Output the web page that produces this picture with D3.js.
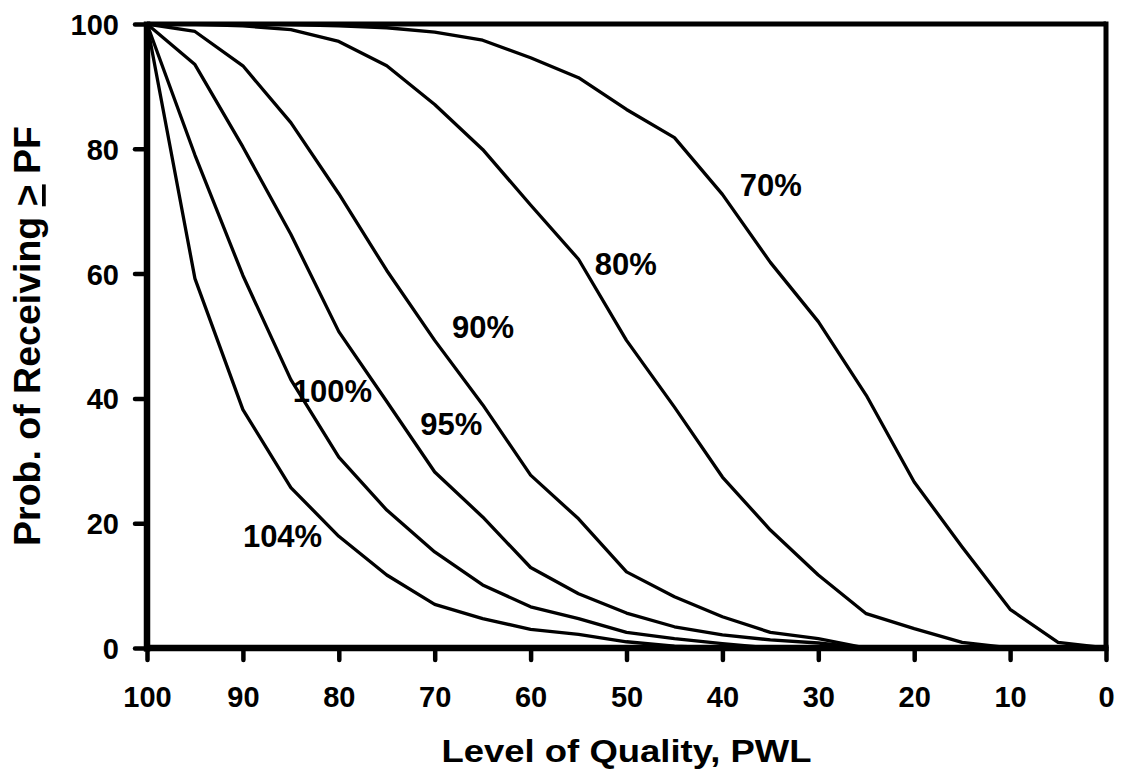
<!DOCTYPE html>
<html>
<head>
<meta charset="utf-8">
<script src="https://cdn.jsdelivr.net/npm/d3@7"></script>
<style>
  html, body { margin: 0; padding: 0; background: #fff; }
  svg { display: block; }
  text { font-family: "Liberation Sans", Arial, sans-serif; font-weight: bold; fill: #000; }
</style>
</head>
<body>
<svg id="chart" width="1124" height="780"></svg>
<script>
// ---- data ----
const pwl = [100, 95, 90, 85, 80, 75, 70, 65, 60, 55, 50, 45, 40, 35, 30, 25, 20, 15, 10, 5, 0];
const s70  = [100, 100, 100, 99.9, 99.7, 99.4, 98.7, 97.4, 94.6, 91.4, 86.3, 81.8, 72.7, 61.8, 52.3, 40.5, 26.6, 16.2, 6.2, 0.9, 0];
const s80  = [100, 99.95, 99.7, 99.1, 97.2, 93.3, 87.1, 79.9, 71.0, 62.3, 49.3, 38.6, 27.4, 18.9, 11.7, 5.5, 3.1, 0.9, 0, 0, 0];
const s90  = [100, 98.8, 93.3, 84.2, 72.8, 60.5, 49.3, 39.0, 27.7, 20.7, 12.2, 8.2, 5.0, 2.5, 1.5, 0, 0, 0, 0, 0, 0];
const s95  = [100, 93.5, 80.3, 66.3, 50.7, 39.5, 28.2, 21.0, 12.9, 8.7, 5.6, 3.4, 2.1, 1.3, 0.8, 0, 0, 0, 0, 0, 0];
const s100 = [100, 79.0, 59.7, 43.0, 30.6, 22.1, 15.4, 10.1, 6.6, 4.7, 2.5, 1.5, 0.7, 0, 0, 0, 0, 0, 0, 0, 0];
const s104 = [100, 59.2, 38.2, 25.7, 17.9, 11.7, 7.0, 4.7, 3.0, 2.2, 1.0, 0.3, 0, 0, 0, 0, 0, 0, 0, 0, 0];
const seriesNames = ["70%", "80%", "90%", "95%", "100%", "104%"];
const seriesValues = [s70, s80, s90, s95, s100, s104];
// label anchor points in data units (PWL, probability)
const labelPWL  = [38.2, 53.3, 68.2, 71.5, 84.8, 90.0];
const labelProb = [72.5, 59.7, 49.6, 34.2, 39.4, 16.2];
const xTicks = [100, 90, 80, 70, 60, 50, 40, 30, 20, 10, 0];
const yTicks = [0, 20, 40, 60, 80, 100];
const xTitle = "Level of Quality, PWL";

// ---- layout ----
const svg = d3.select("#chart");
const pLeft = 147, pRight = 1106, pTop = 24, pBottom = 648;
const x = d3.scaleLinear().domain([100, 0]).range([pLeft, pRight]);
const y = d3.scaleLinear().domain([0, 100]).range([pBottom, pTop]);

// ---- series ----
const line = d3.line().x((d, i) => x(pwl[i])).y(d => y(d));
svg.append("g").selectAll("path").data(seriesValues).join("path")
  .attr("d", d => line(d))
  .attr("fill", "none")
  .attr("stroke", "#000")
  .attr("stroke-width", 3.3)
  .attr("stroke-linejoin", "round");

// ---- frame (top & right) ----
svg.append("line").attr("x1", pLeft).attr("x2", pRight).attr("y1", pTop).attr("y2", pTop)
  .attr("stroke", "#000").attr("stroke-width", 5);
svg.append("line").attr("x1", pRight).attr("x2", pRight).attr("y1", pTop - 2.5).attr("y2", pBottom)
  .attr("stroke", "#000").attr("stroke-width", 5);

// ---- axes ----
const xAxis = svg.append("g").attr("transform", `translate(0,${pBottom})`)
  .call(d3.axisBottom(x).tickValues(xTicks).tickSize(12).tickPadding(34).tickFormat(d3.format("d")));
const yAxis = svg.append("g").attr("transform", `translate(${pLeft},0)`)
  .call(d3.axisLeft(y).tickValues(yTicks).tickSize(12).tickPadding(18).tickFormat(d3.format("d")));

[xAxis, yAxis].forEach(a => {
  a.select(".domain").attr("stroke", "#000").attr("stroke-width", 6.5);
  a.selectAll(".tick line").attr("stroke", "#000").attr("stroke-width", 4.5).attr("stroke-linecap", "round");
  a.selectAll(".tick text").style("font-family", '"Liberation Sans", Arial, sans-serif')
    .style("font-weight", "bold").attr("fill", "#000");
});
xAxis.select(".domain").attr("d", `M${pLeft - 3},0H${pRight + 2.5}`);
yAxis.select(".domain").attr("d", `M0,${pTop - 2.5}V${pBottom + 3.5}`);
xAxis.selectAll(".tick text").style("font-size", "29px").attr("dy", "0.71em").attr("y", 38);
yAxis.selectAll(".tick text").style("font-size", "29px").attr("dy", "0.36em").attr("x", -28);

// ---- series labels ----
svg.append("g").selectAll("text").data(seriesNames).join("text")
  .attr("x", (d, i) => x(labelPWL[i]))
  .attr("y", (d, i) => y(labelProb[i]))
  .style("font-size", "31px")
  .text(d => d);

// ---- axis titles ----
svg.append("text")
  .attr("x", (pLeft + pRight) / 2)
  .attr("y", 762)
  .attr("text-anchor", "middle")
  .attr("textLength", 370)
  .attr("lengthAdjust", "spacingAndGlyphs")
  .style("font-size", "32px")
  .text(xTitle);

const yt = svg.append("text")
  .attr("transform", `translate(40,${(pTop + pBottom) / 2}) rotate(-90)`)
  .attr("text-anchor", "middle")
  .style("font-size", "37.5px");
yt.append("tspan").text("Prob. of Receiving ");
yt.append("tspan").style("text-decoration", "underline").text(">");
yt.append("tspan").text(" PF");
</script>
</body>
</html>
